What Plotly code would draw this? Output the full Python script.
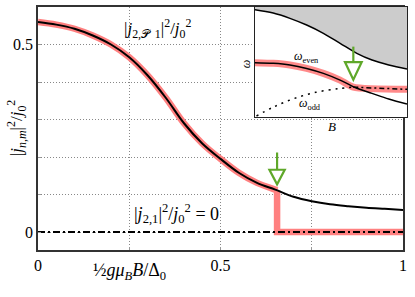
import plotly.graph_objects as go

# ---------------- data (main panel) ----------------
B_vals = [0.00, 0.05, 0.10, 0.15, 0.20, 0.25, 0.30, 0.35, 0.40, 0.45, 0.50,
          0.55, 0.60, 0.65, 0.70, 0.75, 0.80, 0.85, 0.90, 0.95, 1.00]
j2P1 = [0.560, 0.553, 0.542, 0.524, 0.500, 0.466, 0.418, 0.358, 0.290, 0.236, 0.195,
        0.158, 0.131, 0.113, 0.094, 0.082, 0.074, 0.069, 0.065, 0.062, 0.059]
transition_B = 0.655
j21_B = [0.0, 1.0]
j21 = [0.0, 0.0]

# ---------------- data (inset) ----------------
in_x = [0.0, 0.12, 0.23, 0.34, 0.45, 0.56, 0.67, 0.77, 0.88, 1.0]
gap_edge = [0.975, 0.945, 0.897, 0.836, 0.761, 0.670, 0.579, 0.518, 0.473, 0.436]
omega_even = [0.494, 0.488, 0.473, 0.442, 0.397, 0.336, 0.262, 0.215, 0.164, 0.118]
odd_x = [0.01, 0.12, 0.25, 0.40, 0.55, 0.647]
omega_odd = [0.01, 0.09, 0.165, 0.225, 0.258, 0.272]
odd_flat_x = [0.647, 1.0]
odd_flat = [0.272, 0.252]
cross_x = 0.647

RED = "#ff8080"
GREEN = "#5fa82a"
FONT = "Liberation Serif"

fig = go.Figure()

# main red highlight: curve until transition then drop to zero
red_x = [b for b in B_vals if b < transition_B]
red_y = [v for b, v in zip(B_vals, j2P1) if b < transition_B]
v_tr = 0.111
fig.add_trace(go.Scatter(x=red_x + [transition_B], y=red_y + [v_tr], mode="lines",
                         line=dict(color=RED, width=6.5, shape="spline"),
                         hoverinfo="skip", showlegend=False))
fig.add_trace(go.Scatter(x=[transition_B, transition_B, 1.0], y=[v_tr, 0.0, 0.0], mode="lines",
                         line=dict(color=RED, width=6.5), hoverinfo="skip", showlegend=False))
fig.add_trace(go.Scatter(x=B_vals, y=j2P1, mode="lines",
                         line=dict(color="black", width=2, shape="spline"), showlegend=False))
fig.add_trace(go.Scatter(x=j21_B, y=j21, mode="lines",
                         line=dict(color="black", width=2, dash="7px,3px,2px,3px"), showlegend=False))

# ---------------- inset ----------------
fig.add_trace(go.Scatter(x=[0, 1, 1, 0, 0], y=[0, 0, 1, 1, 0], fill="toself", fillcolor="white",
                         line=dict(width=0), mode="lines", xaxis="x2", yaxis="y2",
                         hoverinfo="skip", showlegend=False))
fig.add_trace(go.Scatter(x=in_x + [1.0, 0.0], y=gap_edge + [1.0, 1.0], fill="toself",
                         fillcolor="#cccccc", line=dict(width=0), mode="lines",
                         xaxis="x2", yaxis="y2", hoverinfo="skip", showlegend=False))
fig.add_trace(go.Scatter(x=in_x, y=gap_edge, mode="lines", line=dict(color="black", width=1.5, shape="spline"),
                         xaxis="x2", yaxis="y2", showlegend=False))
ev_x = [x for x in in_x if x < cross_x] + [cross_x]
ev_y = [y for x, y in zip(in_x, omega_even) if x < cross_x] + [0.272]
fig.add_trace(go.Scatter(x=ev_x + odd_flat_x[1:], y=ev_y + odd_flat[1:], mode="lines",
                         line=dict(color="rgba(255,60,60,0.6)", width=7, shape="spline", smoothing=0.6),
                         xaxis="x2", yaxis="y2", hoverinfo="skip", showlegend=False))
fig.add_trace(go.Scatter(x=in_x, y=omega_even, mode="lines", line=dict(color="black", width=1.5, shape="spline"),
                         xaxis="x2", yaxis="y2", showlegend=False))
fig.add_trace(go.Scatter(x=odd_x, y=omega_odd, mode="lines",
                         line=dict(color="black", width=1.5, dash="2px,5px", shape="spline"),
                         xaxis="x2", yaxis="y2", showlegend=False))
fig.add_trace(go.Scatter(x=odd_flat_x, y=odd_flat, mode="lines",
                         line=dict(color="black", width=1.5, dash="5px,3px,2px,3px"),
                         xaxis="x2", yaxis="y2", showlegend=False))

# ---------------- arrows ----------------
shapes = []
def arrow(xref, yref, x, y0, y1, y2, hw):
    shapes.append(dict(type="line", xref=xref, yref=yref, x0=x, x1=x, y0=y0, y1=y1,
                       line=dict(color=GREEN, width=2.2)))
    shapes.append(dict(type="path", xref=xref, yref=yref,
                       path=f"M {x-hw} {y1} L {x+hw} {y1} L {x} {y2} Z",
                       fillcolor="white", line=dict(color=GREEN, width=2.2)))

arrow("x", "y", transition_B, 0.212, 0.166, 0.127, 0.021)
arrow("x2", "y2", cross_x, 0.64, 0.50, 0.34, 0.055)

# ---------------- annotations ----------------
def A(**kw):
    base = dict(showarrow=False, xanchor="center", yanchor="middle")
    base.update(kw)
    return base

ann = [
    A(x=0.33, y=0.543, xref="x", yref="y",
      text="|<i>j</i><sub>2,𝒫\u2009\u20091</sub>|<sup>2</sup>/<i>j</i><sub>0</sub><sup>2</sup>",
      font=dict(family=FONT, size=17, color="black")),
    A(x=0.38, y=0.05, xref="x", yref="y",
      text="|<i>j</i><sub>2,1</sub>|<sup>2</sup>/<i>j</i><sub>0</sub><sup>2</sup> = 0",
      font=dict(family=FONT, size=18, color="black")),
    A(x=-0.058, y=0.50, xref="paper", yref="paper", textangle=-90,
      text="|<i>j</i><sub><i>n,m</i></sub>|<sup>2</sup>/<i>j</i><sub>0</sub><sup>2</sup>",
      font=dict(family=FONT, size=17, color="black")),
    A(x=0.249, y=-0.088, xref="paper", yref="paper",
      text="½<i>gμ</i><sub><i>B</i></sub><i>B</i>/Δ<sub>0</sub>",
      font=dict(family=FONT, size=18, color="black")),
    A(x=0.34, y=0.55, xref="x2", yref="y2",
      text="<i>ω</i><sub>even</sub>", font=dict(family=FONT, size=12, color="black")),
    A(x=0.36, y=0.12, xref="x2", yref="y2",
      text="<i>ω</i><sub>odd</sub>", font=dict(family=FONT, size=12, color="black")),
    A(x=0.564, y=0.765, xref="paper", yref="paper", textangle=-90,
      text="<i>ω</i>", font=dict(family=FONT, size=12, color="black")),
    A(x=0.797, y=0.51, xref="paper", yref="paper",
      text="<i>B</i>", font=dict(family=FONT, size=13, color="black")),
]

fig.update_layout(
    width=415, height=297,
    margin=dict(l=38, r=8, t=7, b=47),
    paper_bgcolor="white", plot_bgcolor="white",
    font=dict(family=FONT, size=15, color="black"),
    showlegend=False,
    shapes=shapes, annotations=ann,
    xaxis=dict(domain=[0, 365/369], range=[0, 1], tickvals=[0, 0.25, 0.5, 0.75, 1],
               ticktext=["0", "", "0.5", "", "1"], showgrid=True, gridcolor="#888888",
               griddash="1px,2px", gridwidth=1, zeroline=False, showline=True, mirror=True,
               linecolor="#333333", linewidth=1.5, ticks="inside", ticklen=3,
               tickcolor="#999999", tickfont=dict(family=FONT, size=16), automargin=False),
    yaxis=dict(domain=[0, 1], range=[-0.048, 0.60], tickvals=[0, 0.1, 0.2, 0.3, 0.4, 0.5],
               ticktext=["0", "", "", "", "", "0.5"], showgrid=True, gridcolor="#888888",
               griddash="1px,2px", gridwidth=1, zeroline=False, showline=True, mirror=True,
               linecolor="#333333", linewidth=1.5, ticks="inside", ticklen=3,
               tickcolor="#999999", tickfont=dict(family=FONT, size=16), automargin=False),
    xaxis2=dict(domain=[0.588, 1.0], range=[0, 1], anchor="y2", showgrid=False, zeroline=False,
                showticklabels=False, ticks="", showline=True, mirror=True,
                linecolor="#222222", linewidth=1.2),
    yaxis2=dict(domain=[0.547, 1.0], range=[0, 1], anchor="x2", showgrid=False, zeroline=False,
                showticklabels=False, ticks="", showline=True, mirror=True,
                linecolor="#222222", linewidth=1.2),
)

fig.write_html("out.html", config={"displayModeBar": False},
               post_script="document.body.style.margin='0';document.body.style.padding='0';")
